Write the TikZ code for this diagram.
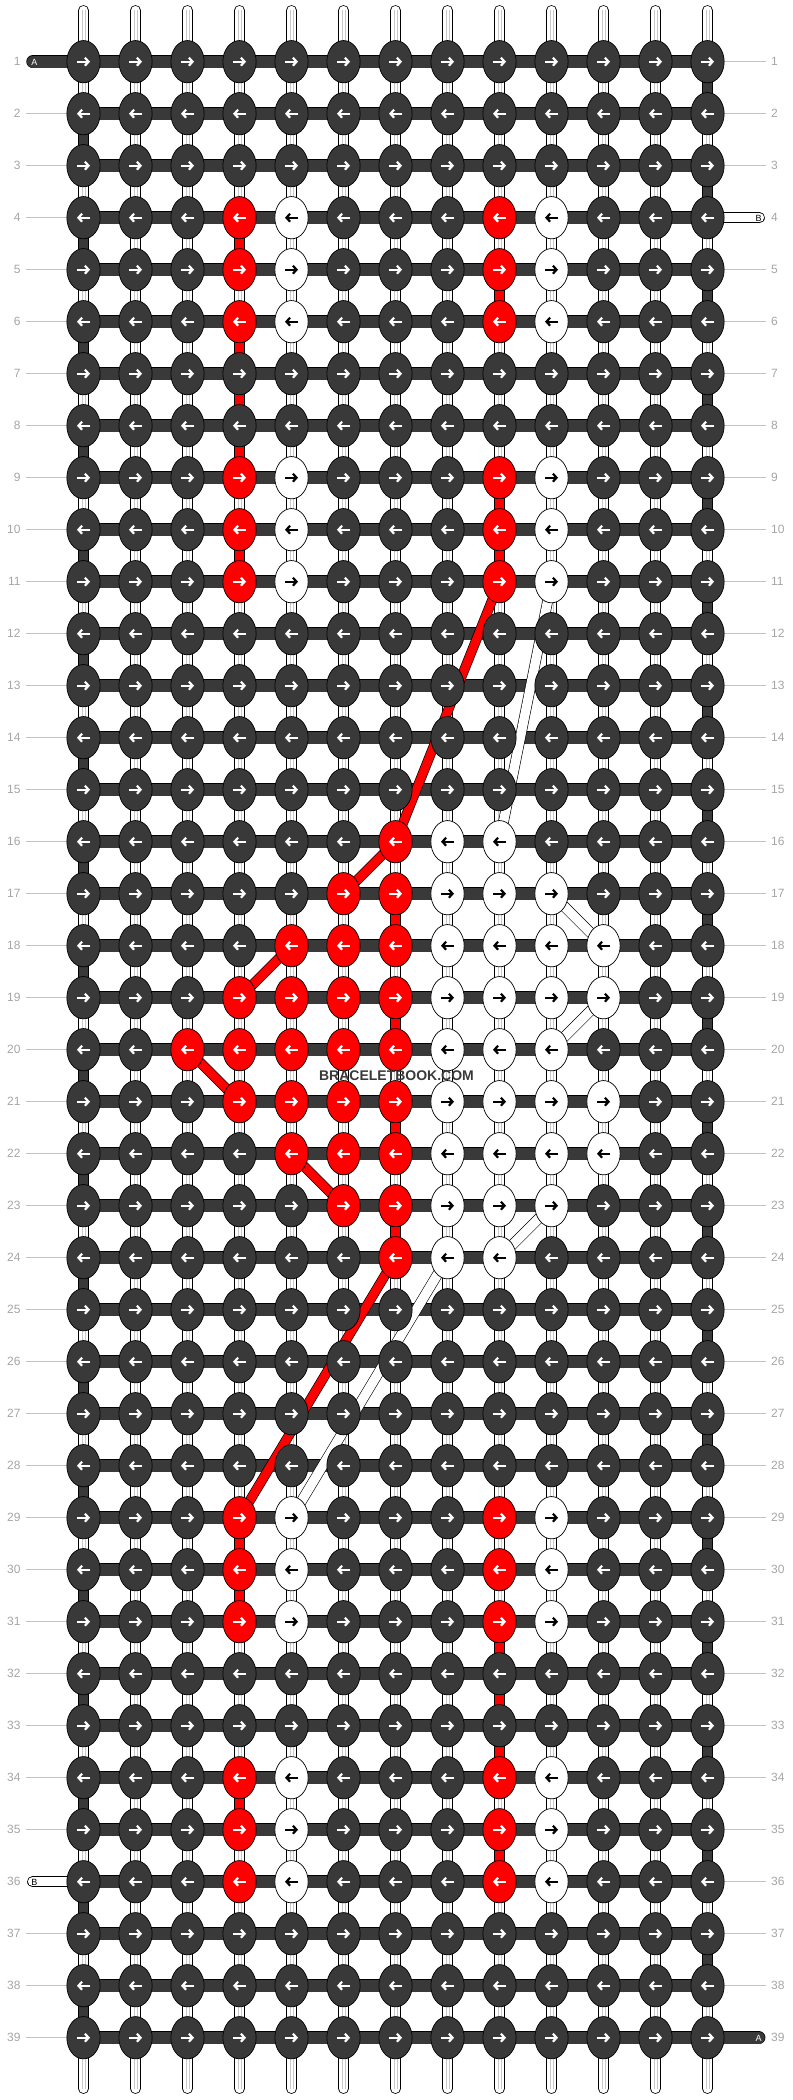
\documentclass[tikz,border=0pt]{standalone}
\usepackage{fontspec}
\setmainfont{Liberation Sans}
\usepackage{tikz}
\usetikzlibrary{shapes.geometric}
\usetikzlibrary{arrows.meta}

\definecolor{knotdark}{RGB}{57,57,57}
\definecolor{numgray}{RGB}{165,165,165}
\definecolor{rulegray}{RGB}{195,195,195}
\definecolor{coregray}{RGB}{200,200,200}

\newcommand{\knotcol}[3]{\expandafter\gdef\csname kc-#1-#2\endcsname{#3}}
\newcommand*{\whitename}{white}

\begin{document}
\begin{tikzpicture}[x=1pt,y=-1pt,
  knot/.style={ellipse,draw=black,line width=0.7pt,fill=#1,minimum width=33.3pt,minimum height=42.3pt,inner sep=0pt},
  knotarrow/.style={-{Straight Barb[length=3.6pt,width=8pt]},draw=#1,line width=2.2pt},
  warpline/.style={line width=0.8pt,double=white,double distance=9.2pt,line cap=round},
  warpcore/.style={draw=coregray,line width=0.5pt},
  redwarp/.style={line width=0.8pt,double=red,double distance=9.2pt},
  weftline/.style={line width=0.7pt,double=knotdark,double distance=12pt},
  weftturn/.style={line width=0.8pt,double=knotdark,double distance=9.2pt},
  redcross/.style={line width=0.7pt,double=red,double distance=8.6pt},
  whitecross/.style={line width=0.6pt,double=white,double distance=9.4pt},
  rownum/.style={text=numgray,font=\fontsize{12}{12}\selectfont,inner sep=0pt},
  tailtag/.style={font=\fontsize{9}{9}\selectfont,inner sep=0pt}]
\useasboundingbox (0,0) rectangle (792,2100);

\foreach \r/\c in {4/4,4/9,5/4,5/9,6/4,6/9,9/4,9/9,10/4,10/9,11/4,11/9,
  16/7,17/6,17/7,18/5,18/6,18/7,19/4,19/5,19/6,19/7,20/3,20/4,20/5,20/6,20/7,
  21/4,21/5,21/6,21/7,22/5,22/6,22/7,23/6,23/7,24/7,
  29/4,29/9,30/4,30/9,31/4,31/9,34/4,34/9,35/4,35/9,36/4,36/9}
  {\knotcol{\r}{\c}{red}}
\foreach \r/\c in {4/5,4/10,5/5,5/10,6/5,6/10,9/5,9/10,10/5,10/10,11/5,11/10,
  16/8,16/9,17/8,17/9,17/10,18/8,18/9,18/10,18/11,19/8,19/9,19/10,19/11,
  20/8,20/9,20/10,21/8,21/9,21/10,21/11,22/8,22/9,22/10,22/11,23/8,23/9,23/10,24/8,24/9,
  29/5,29/10,30/5,30/10,31/5,31/10,34/5,34/10,35/5,35/10,36/5,36/10}
  {\knotcol{\r}{\c}{white}}

\foreach \r in {1,...,39} {
  \foreach \c in {1,...,13} {
    \coordinate (p-\r-\c) at ({83.5+52*(\c-1)},{61.7+52*(\r-1)});
  }
}

\foreach \c in {1,...,13} {
  \coordinate (top-\c) at ({83.5+52*(\c-1)},10.5);
  \coordinate (bot-\c) at ({83.5+52*(\c-1)},2088.5);
  \draw[warpline] (top-\c) -- (bot-\c);
  \draw[warpcore] ([xshift=-1.5pt]top-\c) -- ([xshift=-1.5pt]bot-\c);
  \draw[warpcore] ([xshift=1.5pt]top-\c) -- ([xshift=1.5pt]bot-\c);
}

\foreach \c/\a/\b in {4/4/5,4/6/7,4/7/8,4/8/9,4/10/11,4/29/30,4/30/31,4/34/35,
  9/5/6,9/9/10,9/10/11,9/31/32,9/32/33,9/33/34,9/35/36,
  7/17/18,7/19/20,7/21/22,7/23/24}
  \draw[redwarp] (p-\a-\c) -- (p-\b-\c);

\foreach \a [evaluate=\a as \b using int(\a+1)] in {2,4,...,38}
  \draw[weftturn] (p-\a-1) -- (p-\b-1);
\foreach \a [evaluate=\a as \b using int(\a+1)] in {1,3,...,37}
  \draw[weftturn] (p-\a-13) -- (p-\b-13);

\foreach \r in {1,...,39} {
  \coordinate (ll-\r) at (26,{61.7+52*(\r-1)});
  \coordinate (rl-\r) at (765.7,{61.7+52*(\r-1)});
  \node (nl-\r) [rownum,anchor=east] at (20.7,{61.7+52*(\r-1)}) {\r};
  \node (nr-\r) [rownum,anchor=west] at (771,{61.7+52*(\r-1)}) {\r};
  \ifnum\r=1 \else\ifnum\r=36 \else \draw[rulegray,line width=0.8pt] (ll-\r) -- (p-\r-1);\fi\fi
  \ifnum\r=4 \else\ifnum\r=39 \else \draw[rulegray,line width=0.8pt] (p-\r-13) -- (rl-\r);\fi\fi
  \draw[weftline] (p-\r-1) -- (p-\r-13);
}

\coordinate (a-in) at (33,61.7);
\coordinate (a-out) at (758.7,2037.7);
\coordinate (b-in) at (759.5,217.7);
\coordinate (b-out) at (32.5,1881.7);
\draw[weftline,line cap=round] (a-in) -- (p-1-1);
\draw[weftline,line cap=round] (p-39-13) -- (a-out);
\draw[warpline] (p-4-13) -- (b-in);
\draw[warpline] (b-out) -- (p-36-1);
\node (tag-a1) [tailtag,text=white] at (34.5,62) {A};
\node (tag-a2) [tailtag,text=white] at (758.5,2038) {A};
\node (tag-b1) [tailtag] at (758.5,218) {B};
\node (tag-b2) [tailtag] at (34.5,1882) {B};

\draw[redcross] (p-11-9) -- (p-16-7);
\draw[redcross] (p-16-7) -- (p-17-6);
\draw[redcross] (p-18-5) -- (p-19-4);
\draw[redcross] (p-20-3) -- (p-21-4);
\draw[redcross] (p-22-5) -- (p-23-6);
\draw[redcross] (p-24-7) -- (p-29-4);
\draw[whitecross] (p-11-10) -- (p-16-9);
\draw[whitecross] (p-17-10) -- (p-18-11);
\draw[whitecross] (p-19-11) -- (p-20-10);
\draw[whitecross] (p-23-10) -- (p-24-9);
\draw[whitecross] (p-24-8) -- (p-29-5);

\foreach \r in {1,...,39} {
  \foreach \c in {1,...,13} {
    \ifcsname kc-\r-\c\endcsname \edef\kfill{\csname kc-\r-\c\endcsname}\else \def\kfill{knotdark}\fi
    \ifx\kfill\whitename \def\kpen{black}\else \def\kpen{white}\fi
    \node (k-\r-\c) [knot=\kfill] at (p-\r-\c) {};
    \ifodd\r
      \draw[knotarrow=\kpen] ([xshift=-6.5pt]k-\r-\c.center) -- ([xshift=6.5pt]k-\r-\c.center);
    \else
      \draw[knotarrow=\kpen] ([xshift=6.5pt]k-\r-\c.center) -- ([xshift=-6.5pt]k-\r-\c.center);
    \fi
  }
}

\node (mark) [font=\bfseries\fontsize{14}{14}\selectfont,text=knotdark] at (396.5,1076) {BRACELETBOOK.COM};
\end{tikzpicture}
\end{document}
